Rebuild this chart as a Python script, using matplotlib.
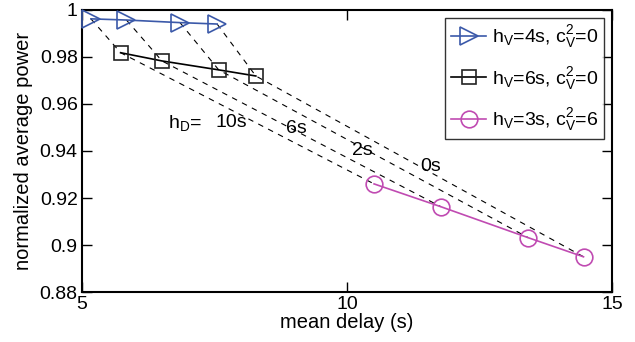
import matplotlib
matplotlib.use("Agg")
import matplotlib.pyplot as plt

plt.rcParams['font.family'] = ['Liberation Sans', 'DejaVu Sans']
plt.rcParams['mathtext.fontset'] = 'custom'
plt.rcParams['mathtext.rm'] = 'Liberation Sans'
plt.rcParams['mathtext.it'] = 'Liberation Sans'

# data
hD_labels = ["10s", "6s", "2s", "0s"]
x_v4 = [5.17, 5.84, 6.85, 7.55]
y_v4 = [0.9962, 0.9957, 0.9946, 0.9940]
x_v6 = [5.73, 6.51, 7.58, 8.28]
y_v6 = [0.9818, 0.9783, 0.9745, 0.9719]
x_v3 = [10.51, 11.77, 13.42, 14.46]
y_v3 = [0.9260, 0.9163, 0.9031, 0.8950]
legend_labels = [r"h$_\mathregular{V}$=4s, c$_\mathregular{V}^\mathregular{2}$=0",
                 r"h$_\mathregular{V}$=6s, c$_\mathregular{V}^\mathregular{2}$=0",
                 r"h$_\mathregular{V}$=3s, c$_\mathregular{V}^\mathregular{2}$=6"]
xticks = [5, 10, 15]
yticks = [0.88, 0.90, 0.92, 0.94, 0.96, 0.98, 1.00]
ytick_labels = ["0.88", "0.9", "0.92", "0.94", "0.96", "0.98", "1"]

blue = '#3b59a9'
mag = '#c04bb2'

fig = plt.figure(figsize=(6.35, 3.42), dpi=100)
ax = fig.add_axes([0.129, 0.146, 0.835, 0.825])

for i in range(len(x_v4)):
    ax.plot([x_v4[i], x_v6[i], x_v3[i]], [y_v4[i], y_v6[i], y_v3[i]],
            ls=(0, (5, 5)), color='black', lw=0.8, zorder=1)

ax.plot(x_v4, y_v4, color=blue, lw=1.2, marker='>', ms=13, mfc='none', mec=blue, mew=1.2,
        label=legend_labels[0], zorder=3, clip_on=False)
ax.plot(x_v6, y_v6, color='black', lw=1.2, marker='s', ms=10, mfc='none', mec='#222222', mew=1.2,
        label=legend_labels[1], zorder=3)
ax.plot(x_v3, y_v3, color=mag, lw=1.2, marker='o', ms=12, mfc='none', mec=mag, mew=1.2,
        label=legend_labels[2], zorder=3)

ax.set_xlim(5, 15)
ax.set_ylim(0.88, 1.0)
ax.set_xticks(xticks)
ax.set_xticklabels([str(t) for t in xticks])
ax.set_yticks(yticks)
ax.set_yticklabels(ytick_labels)
ax.tick_params(direction='in', length=7, width=1, top=True, right=True, labelsize=14, pad=3)
for s in ax.spines.values():
    s.set_linewidth(1.5)

ax.set_xlabel("mean delay (s)", fontsize=14.5, labelpad=0)
ax.set_ylabel("normalized average power", fontsize=14.5, labelpad=5)

ax.text(6.63, 0.9520, r"h$_\mathregular{D}$=", fontsize=14, ha='left', va='center')
ax.text(7.51, 0.9520, hD_labels[0], fontsize=14, ha='left', va='center')
ax.text(9.05, 0.9495, hD_labels[1], fontsize=14, ha='center', va='center')
ax.text(10.29, 0.9404, hD_labels[2], fontsize=14, ha='center', va='center')
ax.text(11.58, 0.9332, hD_labels[3], fontsize=14, ha='center', va='center')

leg = ax.legend(loc='upper right', fontsize=14, frameon=True, fancybox=False,
                edgecolor='black', handlelength=1.8, handletextpad=0.3,
                borderpad=0.3, labelspacing=0.75, borderaxespad=0.4)
leg.get_frame().set_linewidth(1.0)

fig.savefig("out.png", dpi=100)
